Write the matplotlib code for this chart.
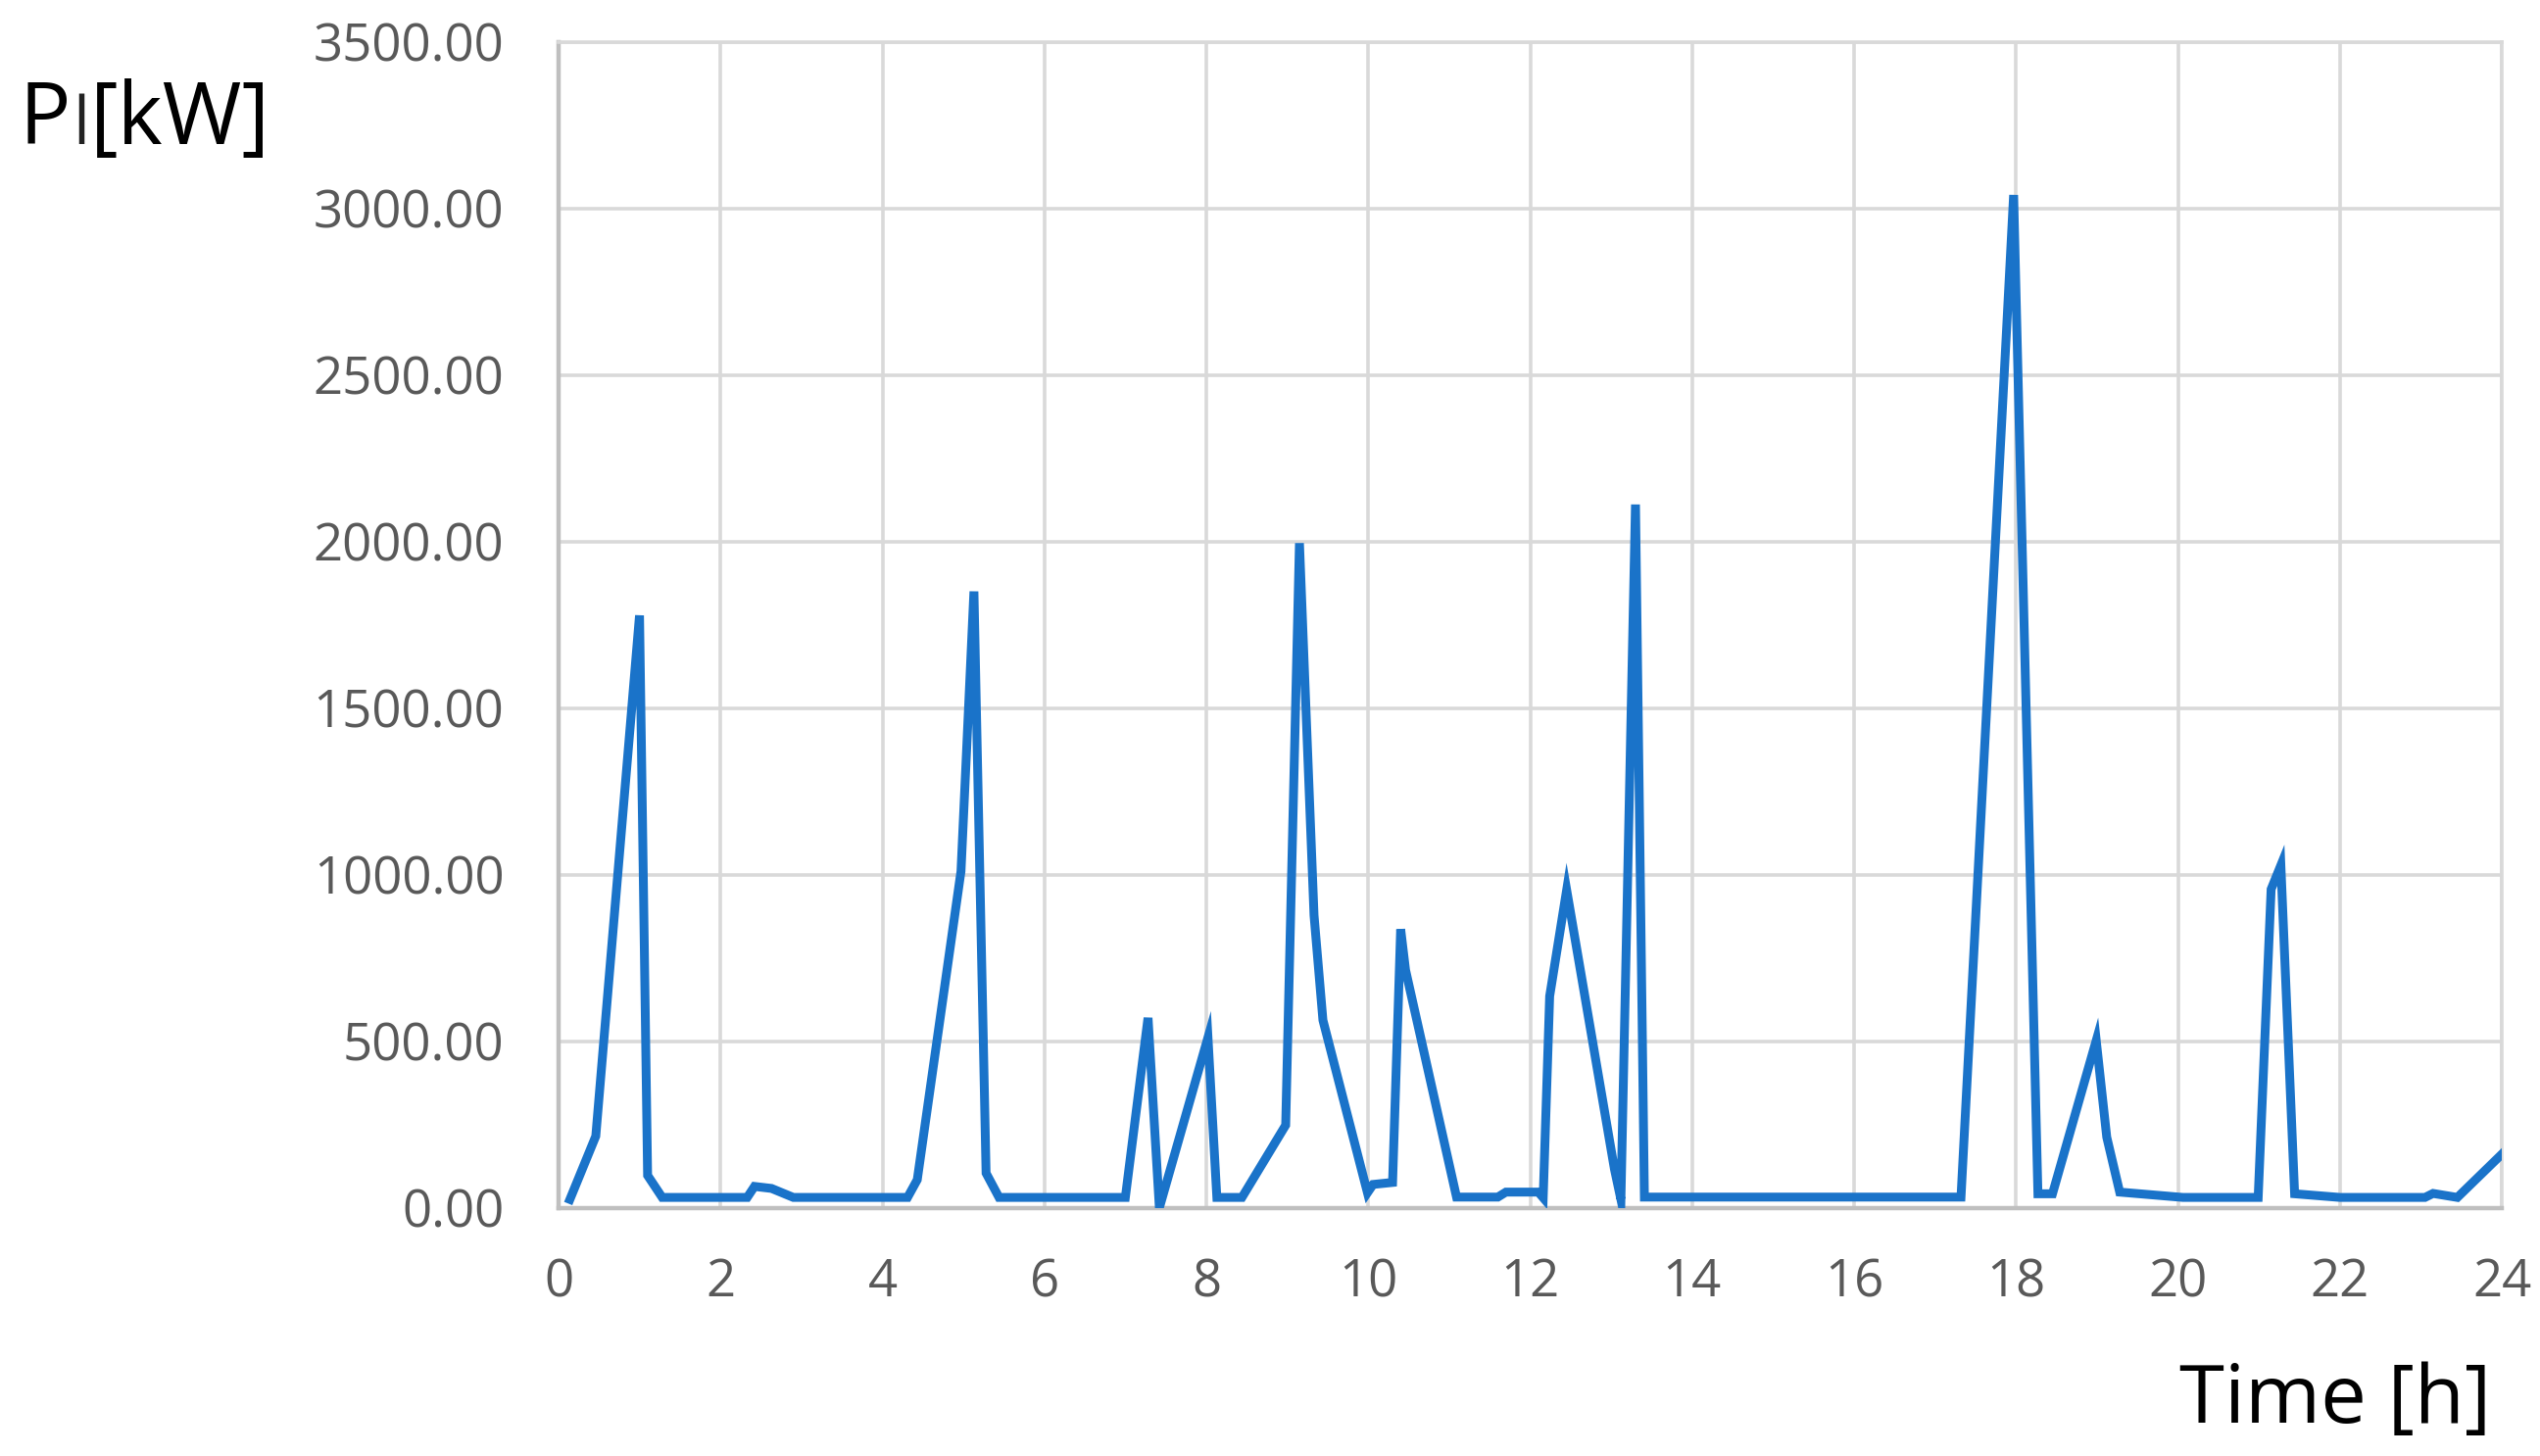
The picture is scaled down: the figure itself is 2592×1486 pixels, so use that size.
import matplotlib
matplotlib.use("Agg")
import matplotlib.pyplot as plt
from matplotlib.offsetbox import TextArea, HPacker, AnchoredOffsetbox

# Datos: hora del día y potencia de carga (kW)
horas = [0.14, 0.46, 1.00, 1.10, 1.28, 2.33, 2.42, 2.63, 2.90, 4.31,
         4.43, 4.97, 5.13, 5.28, 5.44, 7.00, 7.28, 7.42, 8.02, 8.13,
         8.44, 8.98, 9.15, 9.33, 9.44, 9.99, 10.06, 10.30, 10.40, 10.46,
         11.09, 11.60, 11.70, 12.10, 12.16, 12.24, 12.45, 13.04, 13.12, 13.30,
         13.41, 17.32, 17.97, 18.27, 18.45, 18.99, 19.12, 19.28, 20.06, 20.99,
         21.15, 21.27, 21.44, 22.00, 23.05, 23.15, 23.45, 24.00]
potencia = [25, 215, 1778, 97, 31, 31, 64, 58, 31, 31,
            84, 1010, 1850, 104, 31, 31, 570, 0, 511, 31,
            31, 248, 1995, 878, 563, 45, 70, 76, 836, 714,
            32, 32, 47, 47, 30, 635, 954, 116, 25, 2111,
            32, 32, 3040, 42, 42, 502, 212, 47, 31, 31,
            956, 1028, 42, 31, 31, 43, 31, 161]

ticks_x = list(range(0, 25, 2))
ticks_y = list(range(0, 3501, 500))

fuente = "Open Sans"
gris_txt = "#595959"
gris_grid = "#d9d9d9"

fig = plt.figure(figsize=(25.92, 14.86), dpi=100)
ax = fig.add_axes([0.2199, 0.1705, 0.7651, 0.8008])

ax.plot(horas, potencia, color="#1a73c9", lw=6.5, solid_joinstyle="miter", zorder=3)

ax.set_xlim(0, 24)
ax.set_ylim(0, 3500)
ax.set_xticks(ticks_x)
ax.set_yticks(ticks_y)
ax.set_yticklabels([f"{v:.2f}" for v in ticks_y])
ax.grid(True, color=gris_grid, lw=2.6)
ax.set_axisbelow(True)
ax.tick_params(length=0, labelsize=38, labelcolor=gris_txt)
ax.tick_params(axis="y", pad=40)
ax.tick_params(axis="x", pad=36)
for lab in ax.get_xticklabels() + ax.get_yticklabels():
    lab.set_fontfamily(fuente)

for lado in ["left", "bottom"]:
    ax.spines[lado].set_color("#bfbfbf")
    ax.spines[lado].set_linewidth(3.2)
for lado in ["top", "right"]:
    ax.spines[lado].set_color(gris_grid)
    ax.spines[lado].set_linewidth(2.6)

# Etiqueta del eje y: P con "l" más pequeña
props = dict(fontsize=63, family=fuente, color="black")
partes = [TextArea("P", textprops=props),
          TextArea("l", textprops=dict(fontsize=49, family=fuente, color="#222222")),
          TextArea("[kW]", textprops=props)]
caja = HPacker(children=partes, align="baseline", pad=0, sep=1)
anc = AnchoredOffsetbox(loc="lower left", child=caja, pad=0, borderpad=0, frameon=False,
                        bbox_to_anchor=(20 / 2592, 1 - 168 / 1486),
                        bbox_transform=fig.transFigure)
fig.add_artist(anc)

# Etiqueta del eje x
fig.text(2224 / 2592, 1 - 1452 / 1486, "Time [h]", fontsize=60, family=fuente,
         color="black", ha="left", va="baseline")

fig.savefig("out.png", dpi=100, facecolor="white")
